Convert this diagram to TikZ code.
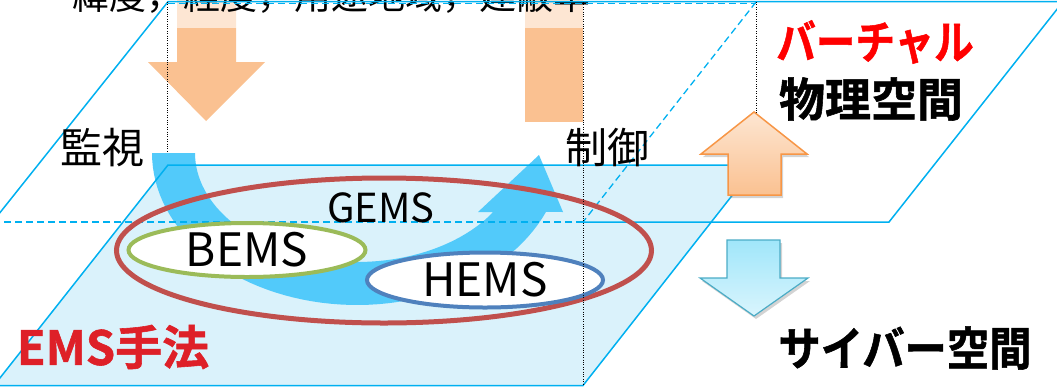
\documentclass[tikz,border=0pt]{standalone}
\usepackage{fontspec}
\usepackage{graphicx}
\setmainfont{Noto Sans CJK JP}[BoldFont={Noto Sans CJK JP Bold},BoldFeatures={FakeBold=1.2}]
\usetikzlibrary{shadows,shapes.geometric}
\definecolor{cyanline}{RGB}{0,176,240}
\definecolor{planefill}{RGB}{218,242,251}
\definecolor{bandblue}{RGB}{82,202,250}
\definecolor{orangeA}{RGB}{250,193,145}
\definecolor{orangeLine}{RGB}{247,150,70}
\definecolor{orangeTop}{RGB}{253,230,210}
\definecolor{gemsred}{RGB}{192,80,77}
\definecolor{bemsgreen}{RGB}{155,187,89}
\definecolor{hemsblue}{RGB}{79,129,189}
\definecolor{downTop}{RGB}{160,230,250}
\definecolor{downBot}{RGB}{218,245,253}
\definecolor{downLine}{RGB}{75,172,198}
\definecolor{emsred}{RGB}{222,32,40}
\begin{document}
\begin{tikzpicture}[x=1pt,y=-1pt,
  planeline/.style={draw=cyanline,line width=1.5pt,line join=miter},
  hiddenline/.style={draw=cyanline,line width=1.3pt,dash pattern=on 7pt off 4pt},
  guide/.style={draw=black,line width=0.9pt,dash pattern=on 0.9pt off 1.5pt},
  flatorange/.style={fill=orangeA,draw=none},
  ring/.style={ellipse,inner sep=0pt,line width=4pt},
  lbl/.style={inner sep=0pt,text=black},
  bigj/.style={inner sep=0pt,font=\bfseries\fontsize{46}{46}\selectfont}
]
\useasboundingbox (0,0) rectangle (1057,389);
% lower plane fill
\fill[planefill] (168,165) -- (756,165) -- (583,385.5) -- (-6,385.5) -- cycle;
% orange arrows (flat)
\fill[flatorange] (177,-5) -- (236,-5) -- (236,62) -- (265,62) -- (206,121) -- (148,62) -- (177,62) -- cycle;
\fill[flatorange] (525,-5) rectangle (583,122);
% translucent text background
\fill[white,opacity=0.6] (150,-20) rectangle (600,28);
\node[lbl,anchor=base west,font=\fontsize{37}{37}\selectfont] (toptext) at (72,9.5) {緯度，経度，用途地域，建蔽率};
% upper plane
\draw[planeline] (-7.5,222) -- (168,1.7) -- (1063,1.7) -- (889,222) -- (583,222);
\draw[hiddenline] (168,3.6) -- (756,3.6);
% blue curved band
\fill[bandblue] (152,153) -- plot[domain=180:22.8,samples=60] ({357+205*cos(\x)},{153+152*sin(\x)})
  -- (563,212) -- (539,155) -- (478,212)
  -- plot[domain=32.8:180,samples=60] ({357+162*cos(\x)},{153+109*sin(\x)}) -- cycle;
% lower plane outline
\draw[planeline] (168,165) -- (756,165) -- (583,385.5) -- (-6,385.5) -- cycle;
% hidden edges of upper plane
\draw[hiddenline] (583,222) -- (-7.5,222);
\draw[hiddenline] (756,2) -- (583,222);
% EMS ellipses
\node[ring,draw=gemsred,line width=5pt,minimum width=535pt,minimum height=145pt] (gems) at (384,250.5) {};
\node[ring,draw=bemsgreen,fill=white,minimum width=237pt,minimum height=54pt,font=\fontsize{46}{46}\selectfont] (bems) at (247,250) {BEMS};
\node[ring,draw=hemsblue,fill=white,minimum width=236pt,minimum height=55pt,font=\fontsize{46}{46}\selectfont] (hems) at (485,280) {HEMS};
\node[lbl,font=\fontsize{40}{40}\selectfont] (gemst) at (381,208) {GEMS};
% guide lines
\draw[guide] (167.5,2) -- (167.5,153);
\draw[guide] (583,2) -- (583,385.5);
\draw[guide] (756,2) -- (756,150);
% 3D arrows
\path[draw=orangeLine,line width=1.5pt,line join=miter,top color=orangeTop,bottom color=orangeA,
  drop shadow={opacity=0.35,shadow xshift=2pt,shadow yshift=-3pt}]
  (754,112) -- (807,154) -- (781,154) -- (781,195) -- (728,195) -- (728,154) -- (701,154) -- cycle;
\path[draw=downLine,line width=1.2pt,line join=miter,top color=downTop,bottom color=downBot,
  drop shadow={opacity=0.35,shadow xshift=2pt,shadow yshift=-3pt}]
  (727,240) -- (780,240) -- (780,278) -- (808,278) -- (754,316) -- (700,278) -- (727,278) -- cycle;
% labels
\node[lbl,font=\fontsize{42}{42}\selectfont] (kanshi) at (102,148) {監視};
\node[lbl,font=\fontsize{42}{42}\selectfont] (seigyo) at (607,148) {制御};
\node[bigj,text=red] (virtual) at (875,42) {\scalebox{0.86}[1]{バーチャル}};
\node[bigj,text=black] (phys) at (871,99) {物理空間};
\node[bigj,text=black] (cyber) at (905,348) {\scalebox{0.92}[1]{サイバー空間}};
\node[bigj,text=emsred,font=\bfseries\fontsize{47}{47}\selectfont] (ems) at (113,347) {EMS手法};
\end{tikzpicture}
\end{document}
